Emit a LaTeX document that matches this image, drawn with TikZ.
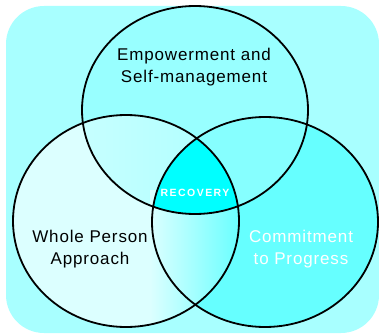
\documentclass[tikz,border=0pt]{standalone}
\usepackage{fontspec}
\setmainfont{Liberation Sans}
\newfontfamily\labelfont[LetterSpace=5]{Liberation Sans}
\newfontfamily\tinyfont[LetterSpace=14]{Liberation Sans}
\definecolor{bgcyan}{HTML}{A8FFFF}
\definecolor{topfill}{HTML}{98FFFF}
\definecolor{leftfill}{HTML}{DCFFFF}
\definecolor{rightfill}{HTML}{66FFFF}
\definecolor{trfill}{HTML}{86FFFF}
\definecolor{corefill}{HTML}{00FFFF}
\begin{document}
\begin{tikzpicture}[x=1pt,y=-1pt,
  ring/.style={draw=black,line width=1.8pt},
  setlabel/.style={font=\labelfont\fontsize{17}{22}\selectfont,align=center,inner sep=0pt},
  corelabel/.style={font=\tinyfont\bfseries\fontsize{10.5}{12}\selectfont,text=white,inner sep=0pt}]
  \useasboundingbox (0,0) rectangle (379,334);
  % panel
  \fill[bgcyan,rounded corners=38pt] (6,6) rectangle (379,333);
  % the three sets
  \def\topset{(195,110) ellipse [x radius=113,y radius=104]}
  \def\leftset{(126,221) ellipse [x radius=113,y radius=106]}
  \def\rightset{(265,222) ellipse [x radius=113,y radius=105]}
  \fill[topfill] \topset;
  \fill[leftfill] \leftset;
  \fill[rightfill] \rightset;
  % pairwise overlaps
  \begin{scope}
    \clip \topset;
    \shade[shading angle=45,left color=leftfill!85!topfill,right color=topfill!80!white] \leftset;
  \end{scope}
  \begin{scope}
    \clip \topset;
    \fill[trfill] \rightset;
  \end{scope}
  \begin{scope}
    \clip \leftset;
    \shade[left color=leftfill,right color=rightfill] (150,190) rectangle (242,330);
  \end{scope}
  % triple overlap
  \begin{scope}
    \clip \topset;
    \clip \leftset;
    \fill[corefill] \rightset;
  \end{scope}
  % outlines
  \draw[ring] \topset;
  \draw[ring] \leftset;
  \draw[ring] \rightset;
  % labels
  \node[setlabel] (empower) at (194,67) {Empowerment and\\Self-management};
  \node[setlabel] (whole) at (90,249) {Whole Person\\Approach};
  \node[setlabel,text=white] (commit) at (301,249) {Commitment\\to Progress};
  \node[corelabel] (core) at (195,193) {RECOVERY};
\end{tikzpicture}
\end{document}
